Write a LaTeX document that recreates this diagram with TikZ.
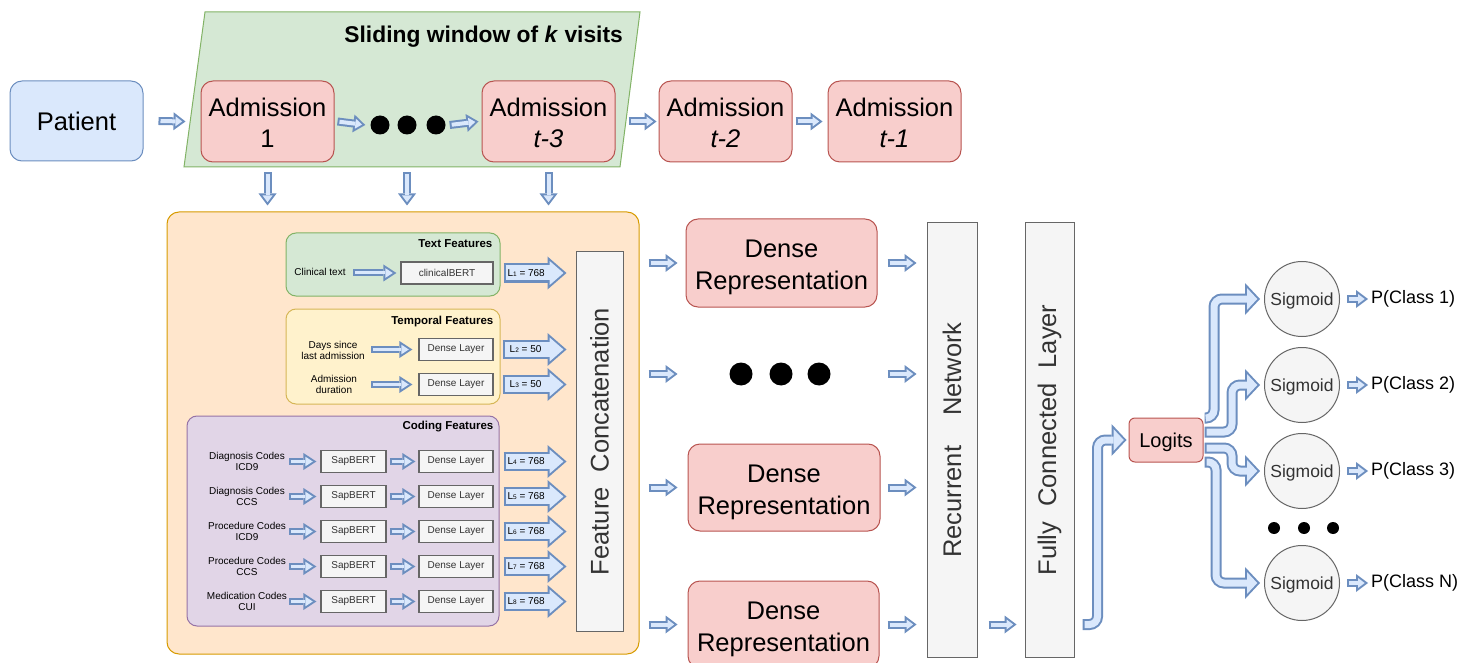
\documentclass[tikz,border=0pt]{standalone}
\usepackage{fontspec}
\setmainfont{Liberation Sans}
\usetikzlibrary{arrows.meta,calc}

\definecolor{arrowline}{HTML}{6C8EBF}
\definecolor{arrowfill}{HTML}{DAE8FC}
\definecolor{pinkfill}{HTML}{F8CECC}
\definecolor{pinkline}{HTML}{B85450}
\definecolor{grayfill}{HTML}{F5F5F5}
\definecolor{grayline}{HTML}{666666}
\definecolor{graytext}{HTML}{333333}
\definecolor{orangefill}{HTML}{FFE6CC}
\definecolor{orangeline}{HTML}{D79B00}
\definecolor{greenfill}{HTML}{D5E8D4}
\definecolor{greenline}{HTML}{82B366}
\definecolor{yellowfill}{HTML}{FFF2CC}
\definecolor{yellowline}{HTML}{D6B656}
\definecolor{purplefill}{HTML}{E1D5E7}
\definecolor{purpleline}{HTML}{9673A6}

\newcommand\fsBig{\fontsize{25.5pt}{31pt}\selectfont}
\newcommand\fsDense{\fontsize{25.5pt}{32pt}\selectfont}
\newcommand\fsSmall{\fontsize{10pt}{11.5pt}\selectfont}
\newcommand\fsTiny{\fontsize{6.5pt}{7pt}\selectfont}

\tikzset{
  box/.style={rectangle, line width=1pt, inner sep=0pt, align=center},
  pinkbox/.style={box, fill=pinkfill, draw=pinkline, rounded corners=12pt, font=\fsBig},
  bluebox/.style={box, fill=arrowfill, draw=arrowline, rounded corners=12pt, font=\fsBig},
  bigtext/.style={inner sep=0pt, align=center, font=\fsBig},
  densetext/.style={inner sep=0pt, align=center, font=\fsDense},
  graybox/.style={box, fill=grayfill, draw=grayline, text=graytext},
  smallgray/.style={graybox, line width=1.2pt, minimum height=22pt, font=\fsSmall},
  grouptitle/.style={anchor=east, inner sep=0pt, font=\bfseries\fontsize{11.5pt}{13pt}\selectfont},
  lbl/.style={inner sep=0pt, align=center, font=\fsSmall},
  dot/.style={circle, fill=black, inner sep=0pt, minimum size=#1},
  sigm/.style={circle, fill=grayfill, draw=grayline, line width=1pt, inner sep=0pt, text depth=0pt,
    minimum size=75pt, text=graytext, font=\fontsize{17.5pt}{20pt}\selectfont},
  ptext/.style={anchor=west, inner sep=0pt, font=\fontsize{18pt}{21pt}\selectfont},
  % block arrows: a dark outline drawn first, a light body on top
  flexS/.style={draw=arrowfill, line width=4pt, shorten <=2pt, shorten >=3.33pt,
    -{Triangle[length=6.67pt, width=10pt, line width=0pt]},
    preaction={draw=arrowline, line width=8pt, shorten <=0pt, shorten >=0pt,
      -{Triangle[length=12pt, width=18pt, line width=0pt]}}},
  flexM/.style={draw=arrowfill, line width=3pt, shorten <=2pt, shorten >=3.65pt,
    -{Triangle[length=7.35pt, width=9.6pt, line width=0pt]},
    preaction={draw=arrowline, line width=7pt, shorten <=0pt, shorten >=0pt,
      -{Triangle[length=13pt, width=17pt, line width=0pt]}}},
  flexL/.style={draw=arrowfill, line width=15pt, shorten <=2pt, shorten >=3.05pt,
    -{Triangle[length=13.95pt, width=24.2pt, line width=0pt]},
    preaction={draw=arrowline, line width=19pt, shorten <=0pt, shorten >=0pt,
      -{Triangle[length=19pt, width=33pt, line width=0pt]}}},
  flexE/.style={draw=arrowfill, line width=7pt, rounded corners=8pt, shorten <=2pt, shorten >=2.74pt,
    -{Triangle[length=10.26pt, width=21.9pt, line width=0pt]},
    preaction={draw=arrowline, line width=11pt, shorten <=0pt, shorten >=0pt,
      -{Triangle[length=15pt, width=32pt, line width=0pt]}}},
  lsize/.style={pos=0.36, inner sep=0pt, font=\fsSmall},
}

\begin{document}
\begin{tikzpicture}[x=1pt,y=-1pt]
\useasboundingbox (0,0) rectangle (1465,663);
\clip (0,0) rectangle (1465,663);

% ---------- sliding window over admissions ----------
\draw[fill=greenfill, draw=greenline, line width=1pt] (205,12) -- (640,12) -- (620,167) -- (184,167) -- cycle;
\node[anchor=east, inner sep=0pt, font=\bfseries\fontsize{22.8pt}{27pt}\selectfont] (wtitle) at (623,37) {Sliding window of \textit{k} visits};

\node[bluebox, minimum width=133pt, minimum height=80pt] (patient) at (76.5,121) {Patient};
\node[pinkbox, minimum width=133pt, minimum height=81pt] (adm1) at (267.5,121.5) {};
\node[bigtext] (adm1t) at ($(adm1)+(0,1.5)$) {Admission\\1};
\node[dot=19pt] (d1) at (380,125) {};
\node[dot=19pt] (d2) at (407,125) {};
\node[dot=19pt] (d3) at (436,125) {};
\node[pinkbox, minimum width=133pt, minimum height=81pt] (admA) at (548.5,121.5) {};
\node[bigtext] (admAt) at ($(admA)+(0,1.5)$) {Admission\\\textit{t-3}};
\node[pinkbox, minimum width=133pt, minimum height=81pt] (admB) at (725.5,121.5) {};
\node[bigtext] (admBt) at ($(admB)+(0,1.5)$) {Admission\\\textit{t-2}};
\node[pinkbox, minimum width=133pt, minimum height=81pt] (admC) at (894.5,121.5) {};
\node[bigtext] (admCt) at ($(admC)+(0,1.5)$) {Admission\\\textit{t-1}};

\draw[flexS] ($(patient.east)+(15,0)$) -- ($(adm1.west)+(-15,0)$);
\draw[flexS] ($(adm1.east)+(3,0)$) -- ($(d1.west)+(-5,0)$);
\draw[flexS] ($(d3.east)+(4,0)$) -- ($(admA.west)+(-3,0)$);
\draw[flexS] ($(admA.east)+(13,0)$) -- ($(admB.west)+(-2,0)$);
\draw[flexS] ($(admB.east)+(3,0)$) -- ($(admC.west)+(-5,0)$);

% ---------- feature extraction block ----------
\node[box, fill=orangefill, draw=orangeline, rounded corners=12pt, minimum width=472pt, minimum height=442pt] (feat) at (403,433) {};

\draw[flexS] ($(adm1.south)+(0,10)$) -- ($(adm1.south |- feat.north)+(0,-6)$);
\draw[flexS] ($(d2 |- adm1.south)+(0,10)$) -- ($(d2 |- feat.north)+(0,-6)$);
\draw[flexS] ($(admA.south)+(0,10)$) -- ($(admA.south |- feat.north)+(0,-6)$);

% text features
\node[box, fill=greenfill, draw=greenline, rounded corners=10pt, minimum width=214pt, minimum height=63pt] (textf) at (393,264.5) {};
\node[grouptitle] at ($(textf.north east)+(-8,11)$) {Text Features};
\node[smallgray, minimum width=92pt] (cbert) at (447,273) {clinicalBERT};
\node[lbl] (ctext) at (320,272) {Clinical text};
\draw[flexM] ($(cbert.west)+(-47,0)$) -- ($(cbert.west)+(-4,0)$);

% temporal features
\node[box, fill=yellowfill, draw=yellowline, rounded corners=10pt, minimum width=214pt, minimum height=95pt] (tempf) at (393,356.5) {};
\node[grouptitle] at ($(tempf.north east)+(-7,13)$) {Temporal Features};
\node[smallgray, minimum width=74pt] (tl1) at (456,349.5) {Dense Layer};
\node[smallgray, minimum width=74pt] (tl2) at (456,384.5) {Dense Layer};
\node[lbl] (tx1) at (333,350.5) {Days since\\last admission};
\node[lbl] (tx2) at (334,384.5) {Admission\\duration};
\draw[flexM] ($(tl1.west)+(-47,0)$) -- ($(tl1.west)+(-6,0)$);
\draw[flexM] ($(tl2.west)+(-47,0)$) -- ($(tl2.west)+(-6,0)$);

% coding features
\node[box, fill=purplefill, draw=purpleline, rounded corners=10pt, minimum width=312pt, minimum height=210pt] (codef) at (343,521) {};
\node[grouptitle] at ($(codef.north east)+(-6,11)$) {Coding Features};
\foreach \i/\y/\name in {1/461.5/{Diagnosis Codes\\ICD9}, 2/496.5/{Diagnosis Codes\\CCS},
    3/531.5/{Procedure Codes\\ICD9}, 4/566.5/{Procedure Codes\\CCS}, 5/601.5/{Medication Codes\\CUI}}{
  \node[lbl] (cx\i) at (247,\y) {\name};
  \node[smallgray, minimum width=65pt] (sb\i) at (353.5,\y) {SapBERT};
  \node[smallgray, minimum width=74pt] (cl\i) at (456,\y) {Dense Layer};
  \draw[flexM] ($(sb\i.west)+(-31,0)$) -- ($(sb\i.west)+(-4,0)$);
  \draw[flexM] ($(sb\i.east)+(3,0)$) -- ($(cl\i.west)+(-3,0)$);
}

% concatenation
\node[graybox, minimum width=47pt, minimum height=379pt, font=\fsBig] (concat) at (599.5,441.5)
  {\rotatebox{90}{Feature\hspace{15pt}Concatenation}};

\draw[flexL] ($(textf.east |- cbert)+(3,0)$) -- ($(concat.west |- cbert)+(-9,0)$)
  node[lsize] {L{\fsTiny 1} = 768};
\draw[flexL] ($(tempf.east |- tl1)+(2,0)$) -- ($(concat.west |- tl1)+(-9,0)$)
  node[lsize] {L{\fsTiny 2} = 50};
\draw[flexL] ($(tempf.east |- tl2)+(2,0)$) -- ($(concat.west |- tl2)+(-9,0)$)
  node[lsize] {L{\fsTiny 3} = 50};
\foreach \i/\n in {1/4,2/5,3/6,4/7,5/8}{
  \draw[flexL] ($(codef.east |- cl\i)+(4,0)$) -- ($(concat.west |- cl\i)+(-9,0)$)
    node[lsize] {L{\fsTiny \n} = 768};
}

% ---------- sequence model ----------
\node[pinkbox, minimum width=191pt, minimum height=88pt] (dr1) at (781.5,263) {};
\node[densetext] (dr1t) at ($(dr1)+(0,4.5)$) {Dense\\Representation};
\node[dot=23pt] (m1) at (741,374) {};
\node[dot=23pt] (m2) at (781,374) {};
\node[dot=23pt] (m3) at (819,374) {};
\node[pinkbox, minimum width=192pt, minimum height=87pt] (dr2) at (784,487.5) {};
\node[densetext] (dr2t) at ($(dr2)+(0,4.5)$) {Dense\\Representation};
\node[pinkbox, minimum width=191pt, minimum height=87pt] (dr3) at (783.5,624.5) {};
\node[densetext] (dr3t) at ($(dr3)+(0,4.5)$) {Dense\\Representation};

\node[graybox, minimum width=50pt, minimum height=434pt, font=\fsBig] (rnn) at (952,440)
  {\rotatebox{90}{Recurrent\hspace{30pt}Network}};
\node[graybox, minimum width=49pt, minimum height=434pt, font=\fsBig] (fc) at (1049.5,440)
  {\rotatebox{90}{Fully\hspace{15pt}Connected\hspace{15pt}Layer}};

\foreach \r in {dr1,m1,dr2,dr3}{
  \draw[flexS] ($(feat.east |- \r)+(9,0)$) -- ($(feat.east |- \r)+(38,0)$);
  \draw[flexS] ($(rnn.west |- \r)+(-39,0)$) -- ($(rnn.west |- \r)+(-10,0)$);
}
\draw[flexS] ($(rnn.east |- dr3)+(11,0)$) -- ($(fc.west |- dr3)+(-8,0)$);

% ---------- output ----------
\node[box, fill=pinkfill, draw=pinkline, rounded corners=6pt, minimum width=74pt, minimum height=44pt,
  text depth=0pt, font=\fontsize{20pt}{24pt}\selectfont] (logits) at (1166,440) {Logits};

\draw[flexE] ($(fc.east |- dr3)+(8,0)$) -| ($(logits.west)+(-31,0)$) -- ($(logits.west)+(-2,0)$);

\node[sigm] (sg1) at (1302,299) {Sigmoid};
\node[sigm] (sg2) at (1302,385) {Sigmoid};
\node[sigm] (sg3) at (1302,471) {Sigmoid};
\node[sigm] (sgN) at (1302,583) {Sigmoid};
\node[dot=12pt] (o1) at (1274,528) {};
\node[dot=12pt] (o2) at (1304,528) {};
\node[dot=12pt] (o3) at (1333,528) {};

\draw[flexE] ($(logits.east)+(1,-22)$) -| ($(sg1.west)+(-50,0)$) -- ($(sg1.west)+(-4,0)$);
\draw[flexE] ($(logits.east)+(1,-8)$) -| ($(sg2.west)+(-32,0)$) -- ($(sg2.west)+(-4,0)$);
\draw[flexE] ($(logits.east)+(1,8)$) -| ($(sg3.west)+(-32,0)$) -- ($(sg3.west)+(-4,0)$);
\draw[flexE] ($(logits.east)+(1,22)$) -| ($(sgN.west)+(-48,0)$) -- ($(sgN.west)+(-4,0)$);

\foreach \s/\c in {sg1/1, sg2/2, sg3/3, sgN/N}{
  \node[ptext] (p\s) at ($(\s.east)+(31,0)$) {P(Class \c)};
  \draw[flexS] ($(\s.east)+(7,0)$) -- ($(p\s.west)+(-3,0)$);
}
\end{tikzpicture}
\end{document}
